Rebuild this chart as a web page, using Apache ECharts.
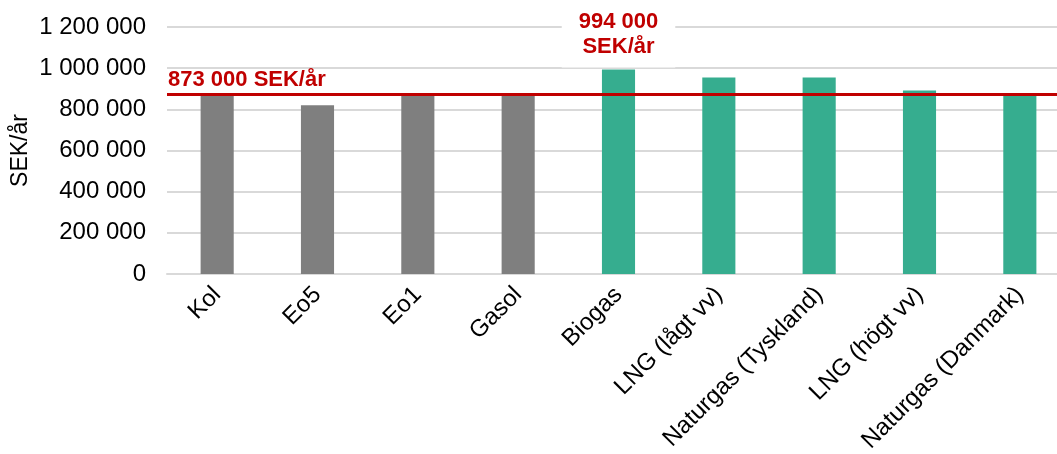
<!DOCTYPE html>
<html>
<head>
<meta charset="utf-8">
<script src="https://cdn.jsdelivr.net/npm/echarts@6/dist/echarts.min.js"></script>
<style>
html,body{margin:0;padding:0;background:#fff;}
#chart{width:1057px;height:454px;}
</style>
</head>
<body>
<div id="chart"></div>
<script>
const categories = ['Kol','Eo5','Eo1','Gasol','Biogas','LNG (lågt vv)','Naturgas (Tyskland)','LNG (högt vv)','Naturgas (Danmark)'];
const values = [875000, 820000, 872000, 873000, 994000, 955000, 955000, 892000, 868000];
const groups = ['fossil','fossil','fossil','fossil','bio','bio','bio','bio','bio'];
const referenceValue = 873000;
const referenceLabel = '873 000 SEK/år';
const highlightIndex = 4;
const highlightLabel = '994 000\nSEK/år';
const yTicks = { min: 0, max: 1200000, interval: 200000 };
const axisTitle = 'SEK/år';

const colors = { fossil: '#7f7f7f', bio: '#36ad8f' };
const font = '"Liberation Sans", Arial, sans-serif';

function fmt(v) {
  return String(v).replace(/\B(?=(\d{3})+(?!\d))/g, ' ');
}

const chart = echarts.init(document.getElementById('chart'), null, { renderer: 'canvas' });
chart.setOption({
  animation: false,
  backgroundColor: '#fff',
  grid: { left: 167, right: -13, top: 27, bottom: 180, containLabel: false, outerBoundsMode: 'none' },
  xAxis: {
    type: 'category',
    data: categories,
    axisLine: { show: true, lineStyle: { color: '#d9d9d9', width: 2 } },
    axisTick: { show: false },
    axisLabel: { rotate: 45, fontSize: 24, color: '#000', fontFamily: font, margin: 17, interval: 0 }
  },
  yAxis: {
    type: 'value',
    min: yTicks.min, max: yTicks.max, interval: yTicks.interval,
    name: axisTitle,
    nameLocation: 'middle',
    nameRotate: 90,
    nameGap: 135,
    nameMoveOverlap: false,
    nameTextStyle: { fontSize: 23, color: '#000', fontFamily: font },
    axisLine: { show: false },
    axisTick: { show: false },
    axisLabel: { fontSize: 24, color: '#000', fontFamily: font, margin: 21, formatter: fmt },
    splitLine: { lineStyle: { color: '#d9d9d9', width: 2 } }
  },
  series: [{
    type: 'bar',
    barWidth: '33%',
    data: values.map((v, i) => {
      const item = { value: v, itemStyle: { color: colors[groups[i]] } };
      if (i === highlightIndex) {
        item.label = {
          show: true,
          position: 'top',
          distance: 2,
          formatter: highlightLabel,
          fontSize: 22,
          fontWeight: 'bold',
          color: '#c00000',
          fontFamily: font,
          lineHeight: 25,
          backgroundColor: '#fff',
          padding: [12, 17, 8, 17]
        };
      }
      return item;
    }),
    markLine: {
      silent: true,
      symbol: 'none',
      z: 10,
      lineStyle: { color: '#c00000', width: 3, type: 'solid' },
      label: {
        show: true,
        position: 'insideStartTop',
        formatter: referenceLabel,
        fontSize: 22,
        fontWeight: 'bold',
        color: '#c00000',
        fontFamily: font,
        distance: [1, 3]
      },
      data: [{ yAxis: referenceValue }]
    }
  }]
});
</script>
</body>
</html>
